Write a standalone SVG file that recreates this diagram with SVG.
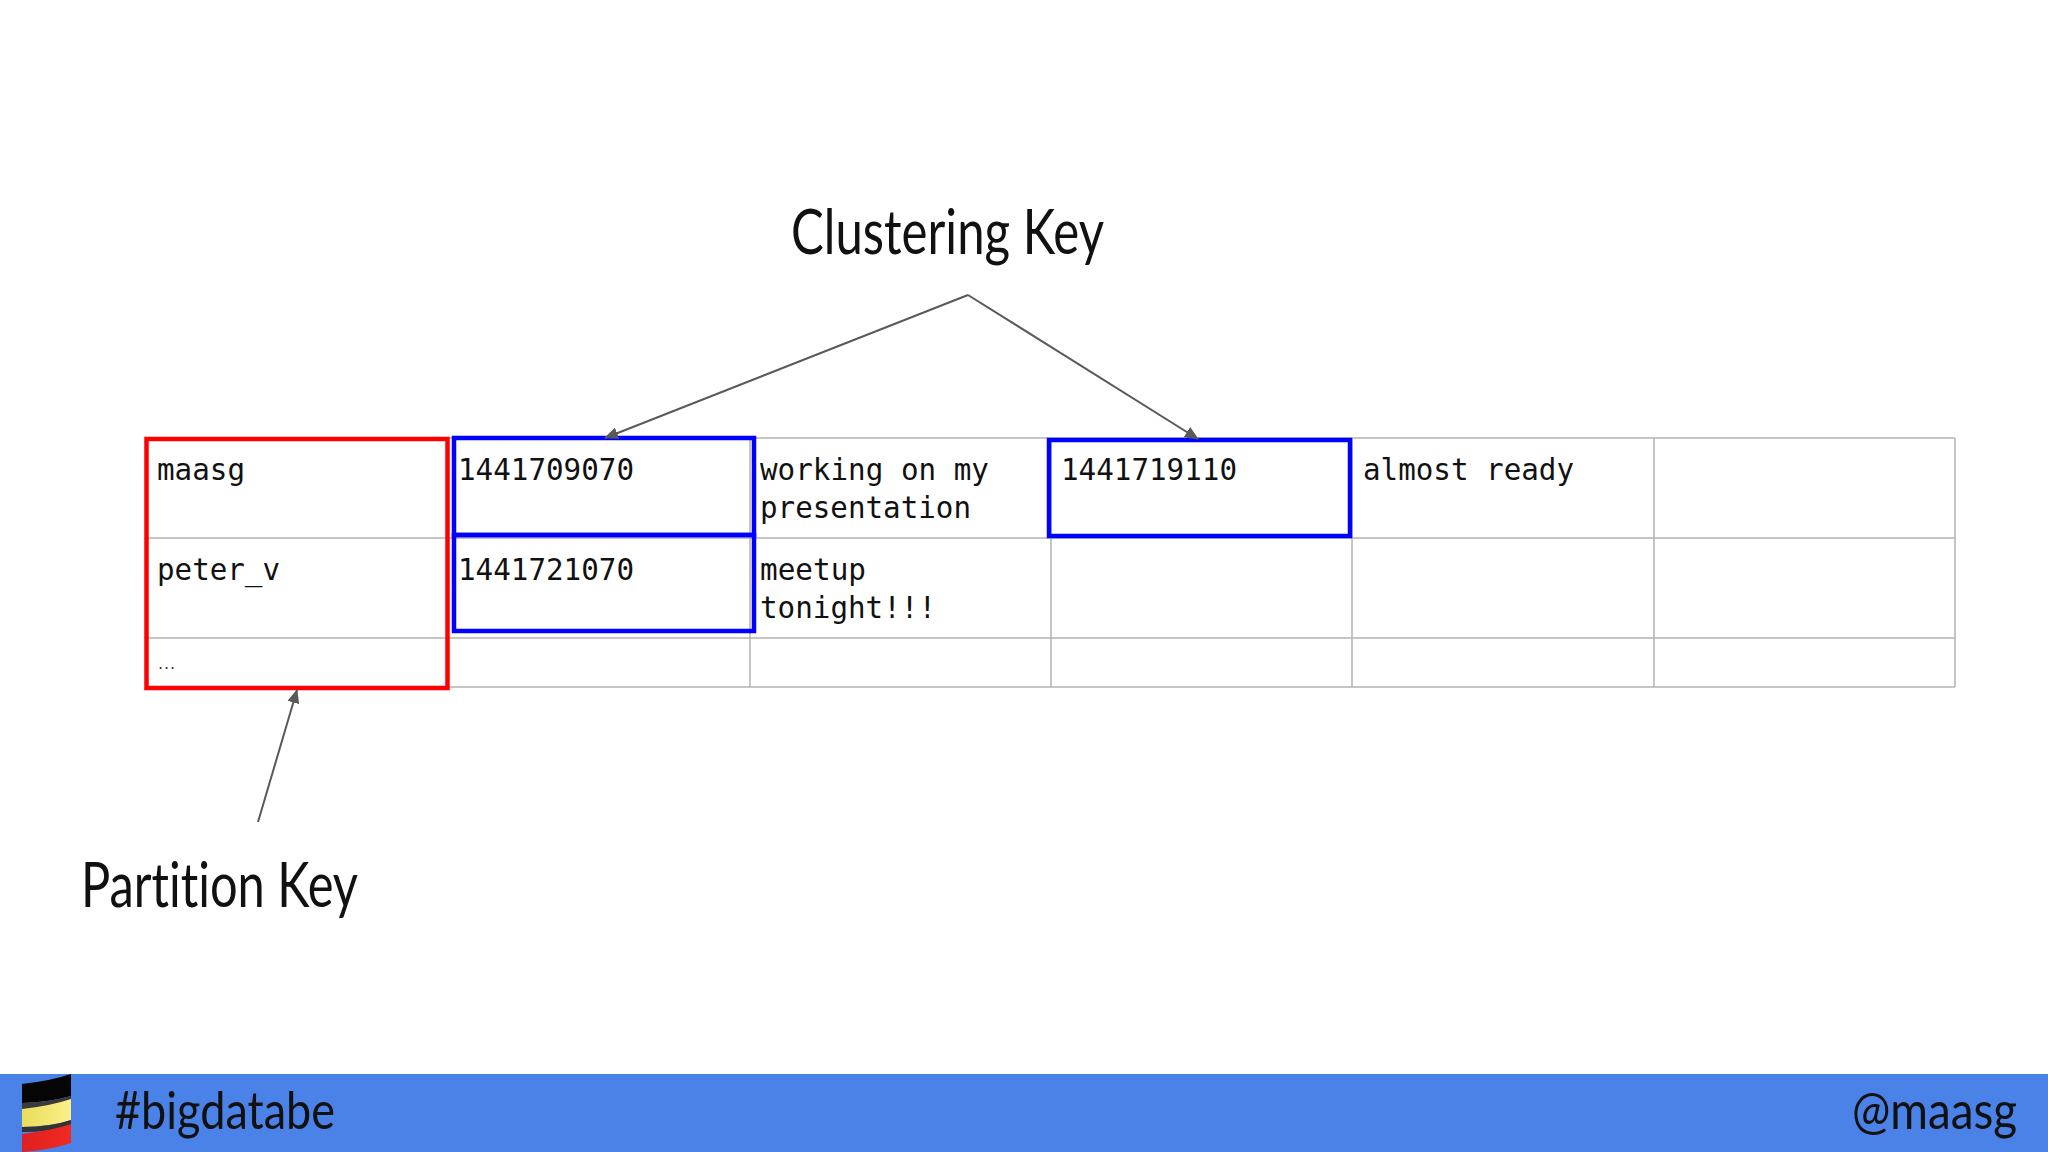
<svg xmlns="http://www.w3.org/2000/svg" width="2048" height="1152" viewBox="0 0 2048 1152">
<defs>
<style>
.grid{stroke:#b3b3b3;stroke-width:1.5;fill:none}
.m{font-family:"DejaVu Sans Mono","Liberation Mono",monospace;font-size:31px;fill:#111}
.t{font-family:Lato,"Open Sans",sans-serif;font-weight:400;font-size:62px;fill:#111;font-variant-ligatures:none}
.f{font-size:52px}
.red{fill:none;stroke:#ff0000;stroke-width:4.5}
.blue{fill:none;stroke:#0000ff;stroke-width:4.5}
.a{fill:none;stroke:#595959;stroke-width:2}
</style>
<marker id="ah" markerUnits="userSpaceOnUse" markerWidth="14" markerHeight="12" refX="13" refY="6" orient="auto"><path d="M0 0L14 6L0 12Z" fill="#595959"/></marker>
<linearGradient id="yl" x1="0" x2="1"><stop offset="0" stop-color="#e8dc5c"/><stop offset="1" stop-color="#fdf08a"/></linearGradient>
<linearGradient id="rd" x1="0" x2="1"><stop offset="0" stop-color="#e02020"/><stop offset="1" stop-color="#f02a20"/></linearGradient>
</defs>
<rect width="2048" height="1152" fill="#fff"/>
<g id="table">
<path class="grid" d="M146 438H1955M146 538H1955M146 638H1955M146 687H1955M146 438V687M447 438V687M750 438V687M1051 438V687M1352 438V687M1654 438V687M1955 438V687"/>
</g>
<g id="cells">
<text class="m" x="157" y="480" textLength="88" lengthAdjust="spacingAndGlyphs">maasg</text>
<text class="m" x="157" y="580" textLength="123" lengthAdjust="spacingAndGlyphs">peter_v</text>
<text x="158" y="669" style="font-family:'DejaVu Sans',sans-serif;font-size:16px;fill:#333" textLength="17">...</text>
<text class="m" x="458" y="480" textLength="176" lengthAdjust="spacingAndGlyphs">1441709070</text>
<text class="m" x="458" y="580" textLength="176" lengthAdjust="spacingAndGlyphs">1441721070</text>
<text class="m" x="760" y="480" textLength="229" lengthAdjust="spacingAndGlyphs">working on my</text>
<text class="m" x="760" y="518" textLength="211" lengthAdjust="spacingAndGlyphs">presentation</text>
<text class="m" x="760" y="580" textLength="106" lengthAdjust="spacingAndGlyphs">meetup</text>
<text class="m" x="760" y="618" textLength="176" lengthAdjust="spacingAndGlyphs">tonight!!!</text>
<text class="m" x="1061" y="480" textLength="176" lengthAdjust="spacingAndGlyphs">1441719110</text>
<text class="m" x="1363" y="480" textLength="211" lengthAdjust="spacingAndGlyphs">almost ready</text>
</g>
<g id="partition-key-box"><rect class="red" x="146.500" y="439" width="301" height="249"/></g>
<g id="clustering-key-boxes">
<rect class="blue" x="454" y="438" width="300" height="97"/>
<rect class="blue" x="454" y="535" width="300" height="96"/>
<rect class="blue" x="1049" y="440" width="301" height="96"/>
</g>
<g id="connectors">
<path class="a" marker-end="url(#ah)" d="M968 295L605 438"/>
<path class="a" marker-end="url(#ah)" d="M968 295L1198 439"/>
<path class="a" marker-end="url(#ah)" d="M258 822L297 690"/>
</g>
<g id="labels">
<text class="t" x="791" y="254" textLength="313" lengthAdjust="spacingAndGlyphs">Clustering Key</text>
<text class="t" x="81" y="907" textLength="277" lengthAdjust="spacingAndGlyphs">Partition Key</text>
</g>
<g id="footer">
<rect y="1074" width="2048" height="78" fill="#4a82e8"/>
<path d="M22 1084Q50 1081 71 1074V1096Q50 1102 22 1103Z" fill="#050505"/>
<path d="M22 1103Q50 1102 71 1096V1104Q50 1109 22 1110Z" fill="#3a3a3a"/>
<path d="M22 1109Q50 1106 71 1099V1120Q50 1127 22 1127Z" fill="url(#yl)"/>
<path d="M22 1127Q50 1127 71 1120V1126Q50 1132 22 1132Z" fill="#333"/>
<path d="M22 1134Q50 1131 71 1124V1143Q50 1150 22 1152Z" fill="url(#rd)"/>
<text class="t f" x="115" y="1129" textLength="220" lengthAdjust="spacingAndGlyphs">#bigdatabe</text>
<text class="t f" x="1852" y="1129" textLength="165" lengthAdjust="spacingAndGlyphs">@maasg</text>
</g>
</svg>
